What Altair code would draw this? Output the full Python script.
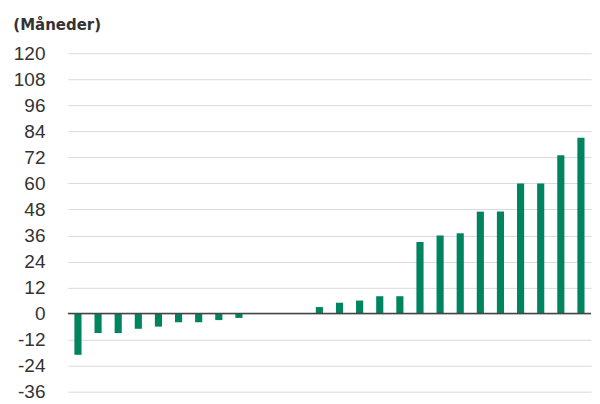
import altair as alt
import pandas as pd

categories = [str(i) for i in range(1, 27)]
values = [-19, -9, -9, -7, -6, -4, -4, -3, -2,
          None, None, None,
          3, 5, 6, 8, 8, 33, 36, 37, 47, 47, 60, 60, 73, 81]
y_ticks = list(range(-36, 121, 12))

df = pd.DataFrame({"cat": categories, "val": values})

bars = alt.Chart(df).mark_bar(color="#00845F").encode(
    x=alt.X("cat:N", sort=categories,
            scale=alt.Scale(domain=categories, paddingInner=0.645, paddingOuter=0.3225),
            axis=None),
    y=alt.Y("val:Q",
            scale=alt.Scale(domain=[-36, 120], nice=False, zero=False),
            axis=alt.Axis(values=y_ticks, tickCount=30, title=None, ticks=False, domain=False,
                          grid=True, gridColor="#d9d9d9", gridWidth=1,
                          labelOverlap=False, labelExpr="'' + datum.value",
                          labelFont="Liberation Sans", labelFontSize=19,
                          labelColor="#333333", labelPadding=23)),
)

zero = alt.Chart(pd.DataFrame({"z": [0]})).mark_rule(color="#444444", strokeWidth=1.5).encode(
    y="z:Q"
)

chart = (bars + zero).properties(
    width=524,
    height=339,
    padding={"left": 5, "top": 10, "right": 0, "bottom": 0},
    title=alt.TitleParams("(Måneder)", anchor="start", frame="bounds",
                          font="DejaVu Sans", fontSize=15, fontWeight="bold",
                          color="#333333", offset=11),
).configure_view(stroke=None)

chart.save("out.html", embed_options={"renderer": "svg", "actions": False})
